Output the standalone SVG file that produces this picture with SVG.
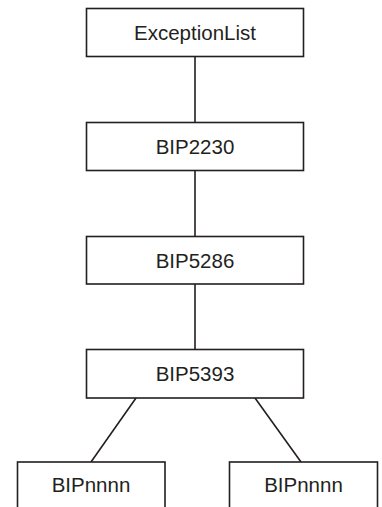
<svg xmlns="http://www.w3.org/2000/svg" width="382" height="507" viewBox="0 0 382 507">
<style>
.box{fill:#fff;stroke:#231f20;stroke-width:1.6}
.lbl{font-family:"Liberation Sans",Arial,sans-serif;font-size:20.5px;fill:#231f20;text-anchor:middle}
.edge{stroke:#231f20;stroke-width:1.6;fill:none}
</style>
<rect width="382" height="507" fill="#fff"/>
<g id="connectors">
<line class="edge" x1="195" y1="56.5" x2="195" y2="122.5"/>
<line class="edge" x1="195" y1="170.5" x2="195" y2="236.5"/>
<line class="edge" x1="195" y1="284" x2="195" y2="349.5"/>
<line class="edge" x1="136" y1="398" x2="91" y2="462"/>
<line class="edge" x1="255" y1="398" x2="301" y2="462"/>
</g>
<g id="ExceptionList">
<rect class="box" x="86.5" y="8.5" width="217" height="48"/>
<text class="lbl" x="195" y="39.5">ExceptionList</text>
</g>
<g id="BIP2230">
<rect class="box" x="86.5" y="122.5" width="217" height="48"/>
<text class="lbl" x="195" y="154">BIP2230</text>
</g>
<g id="BIP5286">
<rect class="box" x="86.5" y="236.5" width="217" height="47.5"/>
<text class="lbl" x="195" y="267.5">BIP5286</text>
</g>
<g id="BIP5393">
<rect class="box" x="86.5" y="349.5" width="217" height="48.5"/>
<text class="lbl" x="195" y="381">BIP5393</text>
</g>
<g id="BIPnnnn1">
<rect class="box" x="17.5" y="462" width="147.5" height="60"/>
<text class="lbl" x="91" y="492">BIPnnnn</text>
</g>
<g id="BIPnnnn2">
<rect class="box" x="229.5" y="462" width="148" height="60"/>
<text class="lbl" x="303.5" y="492">BIPnnnn</text>
</g>
</svg>
